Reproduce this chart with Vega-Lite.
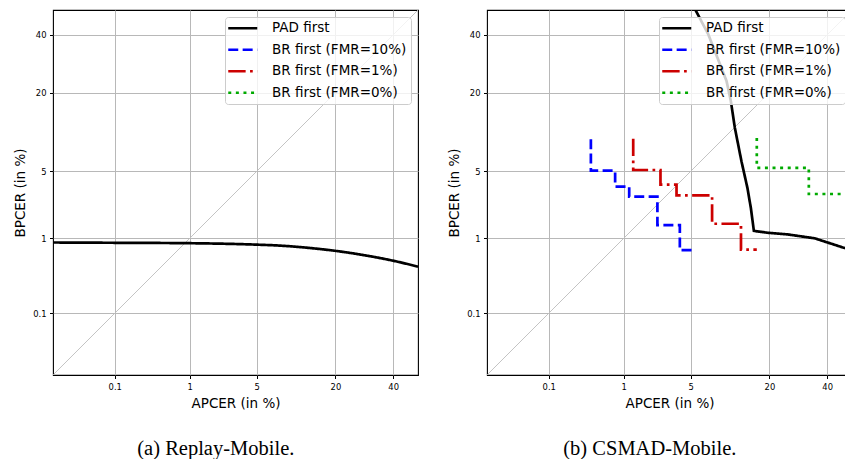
{
  "$schema": "https://vega.github.io/schema/vega-lite/v6.json",
  "background": "white",
  "padding": {"left": 13, "top": 9, "right": 0, "bottom": 0},
  "spacing": 28,
  "datasets": {
    "diag": [
      {"apcer": 0.01, "bpcer": 0.01},
      {"apcer": 50, "bpcer": 50}
    ],
    "a": [
      {"s": "PAD first", "o": 1, "apcer": 0.01, "bpcer": 0.892},
      {"s": "PAD first", "o": 2, "apcer": 0.1, "bpcer": 0.885},
      {"s": "PAD first", "o": 3, "apcer": 0.98, "bpcer": 0.875},
      {"s": "PAD first", "o": 4, "apcer": 5.06, "bpcer": 0.84},
      {"s": "PAD first", "o": 5, "apcer": 7.8, "bpcer": 0.82},
      {"s": "PAD first", "o": 6, "apcer": 14.0, "bpcer": 0.761},
      {"s": "PAD first", "o": 7, "apcer": 20.05, "bpcer": 0.706},
      {"s": "PAD first", "o": 8, "apcer": 28.5, "bpcer": 0.63},
      {"s": "PAD first", "o": 9, "apcer": 40.3, "bpcer": 0.529},
      {"s": "PAD first", "o": 10, "apcer": 50, "bpcer": 0.446}
    ],
    "b": [
      {"s": "PAD first", "o": 1, "apcer": 5.54, "bpcer": 50},
      {"s": "PAD first", "o": 2, "apcer": 7.14, "bpcer": 40.3},
      {"s": "PAD first", "o": 3, "apcer": 10.05, "bpcer": 23.5},
      {"s": "PAD first", "o": 4, "apcer": 10.85, "bpcer": 17.7},
      {"s": "PAD first", "o": 5, "apcer": 11.63, "bpcer": 11.5},
      {"s": "PAD first", "o": 6, "apcer": 13.0, "bpcer": 6.17},
      {"s": "PAD first", "o": 7, "apcer": 14.34, "bpcer": 3.48},
      {"s": "PAD first", "o": 8, "apcer": 15.14, "bpcer": 2.18},
      {"s": "PAD first", "o": 9, "apcer": 15.87, "bpcer": 1.22},
      {"s": "PAD first", "o": 10, "apcer": 19.65, "bpcer": 1.16},
      {"s": "PAD first", "o": 11, "apcer": 25.7, "bpcer": 1.11},
      {"s": "PAD first", "o": 12, "apcer": 35.2, "bpcer": 1.0},
      {"s": "PAD first", "o": 13, "apcer": 46.4, "bpcer": 0.775},
      {"s": "PAD first", "o": 14, "apcer": 50, "bpcer": 0.72},
      {"s": "BR first (FMR=10%)", "o": 1, "apcer": 0.39, "bpcer": 9.4},
      {"s": "BR first (FMR=10%)", "o": 2, "apcer": 0.39, "bpcer": 5.08},
      {"s": "BR first (FMR=10%)", "o": 3, "apcer": 0.79, "bpcer": 5.08},
      {"s": "BR first (FMR=10%)", "o": 4, "apcer": 0.79, "bpcer": 3.6},
      {"s": "BR first (FMR=10%)", "o": 5, "apcer": 1.16, "bpcer": 3.6},
      {"s": "BR first (FMR=10%)", "o": 6, "apcer": 1.16, "bpcer": 2.86},
      {"s": "BR first (FMR=10%)", "o": 7, "apcer": 2.37, "bpcer": 2.86},
      {"s": "BR first (FMR=10%)", "o": 8, "apcer": 2.37, "bpcer": 1.42},
      {"s": "BR first (FMR=10%)", "o": 9, "apcer": 3.97, "bpcer": 1.42},
      {"s": "BR first (FMR=10%)", "o": 10, "apcer": 3.97, "bpcer": 0.72},
      {"s": "BR first (FMR=10%)", "o": 11, "apcer": 5.1, "bpcer": 0.72},
      {"s": "BR first (FMR=1%)", "o": 1, "apcer": 1.29, "bpcer": 9.5},
      {"s": "BR first (FMR=1%)", "o": 2, "apcer": 1.29, "bpcer": 5.15},
      {"s": "BR first (FMR=1%)", "o": 3, "apcer": 2.55, "bpcer": 5.15},
      {"s": "BR first (FMR=1%)", "o": 4, "apcer": 2.55, "bpcer": 3.76},
      {"s": "BR first (FMR=1%)", "o": 5, "apcer": 3.69, "bpcer": 3.76},
      {"s": "BR first (FMR=1%)", "o": 6, "apcer": 3.69, "bpcer": 2.95},
      {"s": "BR first (FMR=1%)", "o": 7, "apcer": 7.7, "bpcer": 2.95},
      {"s": "BR first (FMR=1%)", "o": 8, "apcer": 7.7, "bpcer": 1.47},
      {"s": "BR first (FMR=1%)", "o": 9, "apcer": 12.9, "bpcer": 1.47},
      {"s": "BR first (FMR=1%)", "o": 10, "apcer": 12.9, "bpcer": 0.73},
      {"s": "BR first (FMR=1%)", "o": 11, "apcer": 16.6, "bpcer": 0.73},
      {"s": "BR first (FMR=0%)", "o": 1, "apcer": 16.6, "bpcer": 9.6},
      {"s": "BR first (FMR=0%)", "o": 2, "apcer": 16.6, "bpcer": 5.38},
      {"s": "BR first (FMR=0%)", "o": 3, "apcer": 33, "bpcer": 5.38},
      {"s": "BR first (FMR=0%)", "o": 4, "apcer": 33, "bpcer": 3.04},
      {"s": "BR first (FMR=0%)", "o": 5, "apcer": 50, "bpcer": 3.04}
    ]
  },
  "resolve": {
    "scale": {"x": "independent", "y": "independent", "color": "independent", "strokeDash": "independent"},
    "legend": {"color": "independent", "strokeDash": "independent"}
  },
  "hconcat": [
    {
      "width": 365,
      "height": 365,
      "title": {"text": "(a) Replay-Mobile.", "orient": "bottom", "anchor": "middle", "frame": "bounds", "font": "Liberation Serif", "fontSize": 20.5, "fontWeight": "normal", "color": "black", "baseline": "top", "offset": 29},
      "layer": [
        {
          "data": {"name": "diag"},
          "transform": [
            {"calculate": "quantileNormal(datum.apcer/100)", "as": "px"},
            {"calculate": "quantileNormal(datum.bpcer/100)", "as": "py"}
          ],
          "mark": {"type": "line", "color": "#bdbdbd", "strokeWidth": 0.9, "clip": true},
          "encoding": {
            "x": {"field": "px", "type": "quantitative", "title": "APCER (in %)",
              "scale": {"domain": [-3.719, 0], "nice": false, "zero": false},
              "axis": {"values": [-3.0902, -2.3263, -1.6449, -0.8416, -0.2533], "labelExpr": "datum.value < -3 ? '0.1' : datum.value < -2 ? '1' : datum.value < -1.5 ? '5' : datum.value < -0.5 ? '20' : '40'"}},
            "y": {"field": "py", "type": "quantitative", "title": "BPCER (in %)",
              "scale": {"domain": [-3.719, 0], "nice": false, "zero": false},
              "axis": {"values": [-3.0902, -2.3263, -1.6449, -0.8416, -0.2533], "labelExpr": "datum.value < -3 ? '0.1' : datum.value < -2 ? '1' : datum.value < -1.5 ? '5' : datum.value < -0.5 ? '20' : '40'"}}
          }
        },
        {
          "data": {"name": "a"},
          "transform": [
            {"calculate": "quantileNormal(datum.apcer/100)", "as": "px"},
            {"calculate": "quantileNormal(datum.bpcer/100)", "as": "py"}
          ],
          "mark": {"type": "line", "strokeWidth": 2.7, "clip": true, "strokeCap": "butt", "strokeJoin": "miter", "interpolate": "monotone"},
          "encoding": {
            "x": {"field": "px", "type": "quantitative"},
            "y": {"field": "py", "type": "quantitative"},
            "order": {"field": "o", "type": "quantitative"},
            "color": {"field": "s", "type": "nominal", "title": null,
              "scale": {"domain": ["PAD first", "BR first (FMR=10%)", "BR first (FMR=1%)", "BR first (FMR=0%)"], "range": ["#000000", "#0000ff", "#cc0000", "#00aa00"]}},
            "strokeDash": {"field": "s", "type": "nominal", "title": null,
              "scale": {"domain": ["PAD first", "BR first (FMR=10%)", "BR first (FMR=1%)", "BR first (FMR=0%)"], "range": [[1, 0], [10, 4.4], [17.4, 4.4, 2.7, 4.4], [3, 4.6]]}}
          }
        }
      ]
    },
    {
      "width": 365,
      "height": 365,
      "title": {"text": "(b) CSMAD-Mobile.", "orient": "bottom", "anchor": "middle", "frame": "bounds", "font": "Liberation Serif", "fontSize": 20.5, "fontWeight": "normal", "color": "black", "baseline": "top", "offset": 29},
      "layer": [
        {
          "data": {"name": "diag"},
          "transform": [
            {"calculate": "quantileNormal(datum.apcer/100)", "as": "px"},
            {"calculate": "quantileNormal(datum.bpcer/100)", "as": "py"}
          ],
          "mark": {"type": "line", "color": "#bdbdbd", "strokeWidth": 0.9, "clip": true},
          "encoding": {
            "x": {"field": "px", "type": "quantitative", "title": "APCER (in %)",
              "scale": {"domain": [-3.719, 0], "nice": false, "zero": false},
              "axis": {"values": [-3.0902, -2.3263, -1.6449, -0.8416, -0.2533], "labelExpr": "datum.value < -3 ? '0.1' : datum.value < -2 ? '1' : datum.value < -1.5 ? '5' : datum.value < -0.5 ? '20' : '40'"}},
            "y": {"field": "py", "type": "quantitative", "title": "BPCER (in %)",
              "scale": {"domain": [-3.719, 0], "nice": false, "zero": false},
              "axis": {"values": [-3.0902, -2.3263, -1.6449, -0.8416, -0.2533], "labelExpr": "datum.value < -3 ? '0.1' : datum.value < -2 ? '1' : datum.value < -1.5 ? '5' : datum.value < -0.5 ? '20' : '40'"}}
          }
        },
        {
          "data": {"name": "b"},
          "transform": [
            {"calculate": "quantileNormal(datum.apcer/100)", "as": "px"},
            {"calculate": "quantileNormal(datum.bpcer/100)", "as": "py"}
          ],
          "mark": {"type": "line", "strokeWidth": 2.7, "clip": true, "strokeCap": "butt", "strokeJoin": "miter"},
          "encoding": {
            "x": {"field": "px", "type": "quantitative"},
            "y": {"field": "py", "type": "quantitative"},
            "order": {"field": "o", "type": "quantitative"},
            "color": {"field": "s", "type": "nominal", "title": null,
              "scale": {"domain": ["PAD first", "BR first (FMR=10%)", "BR first (FMR=1%)", "BR first (FMR=0%)"], "range": ["#000000", "#0000ff", "#cc0000", "#00aa00"]}},
            "strokeDash": {"field": "s", "type": "nominal", "title": null,
              "scale": {"domain": ["PAD first", "BR first (FMR=10%)", "BR first (FMR=1%)", "BR first (FMR=0%)"], "range": [[1, 0], [10, 4.4], [17.4, 4.4, 2.7, 4.4], [3, 4.6]]}}
          }
        }
      ]
    }
  ],
  "config": {
    "view": {"stroke": "black", "strokeWidth": 1.1},
    "axis": {
      "grid": true, "gridColor": "#b8b8b8", "gridWidth": 1,
      "domain": false,
      "ticks": true, "tickColor": "black", "tickSize": 3.5, "tickWidth": 1,
      "labelFont": "DejaVu Sans", "labelFontSize": 8.4, "labelColor": "black", "labelPadding": 3.5,
      "titleFont": "DejaVu Sans", "titleFontSize": 13.5, "titleFontWeight": "normal", "titleColor": "black"
    },
    "axisX": {"titlePadding": 6},
    "axisY": {"titlePadding": 5},
    "legend": {
      "orient": "top-right", "offset": 7,
      "fillColor": "rgba(255,255,255,0.8)", "strokeColor": "#cccccc", "cornerRadius": 3,
      "padding": 4.5,
      "labelFont": "DejaVu Sans", "labelFontSize": 13.5, "labelColor": "black",
      "symbolType": "M-2.9,0H2.9", "symbolSize": 100, "symbolStrokeWidth": 2.7,
      "symbolFillColor": "transparent",
      "symbolOffset": 6.5, "labelOffset": 22.5,
      "rowPadding": 6.5
    }
  }
}
